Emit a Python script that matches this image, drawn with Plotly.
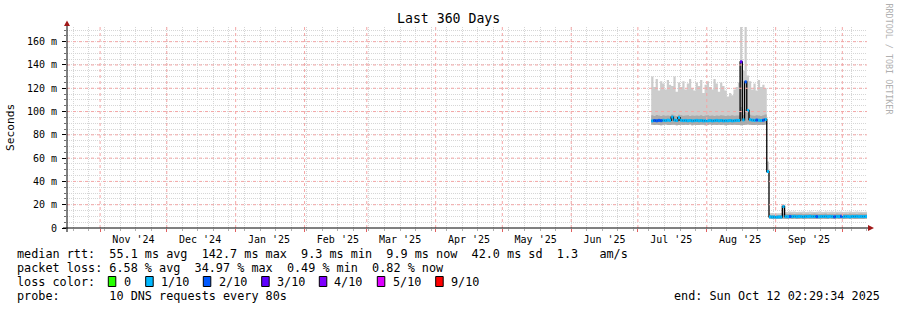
import pandas as pd
import plotly.graph_objects as go

# ---------------- data ----------------
range_start = "2024-10-17 02:29:34"
range_end = "2025-10-12 02:29:34"
first_day = "2025-07-07"

month_starts = ["2024-11-01", "2024-12-01", "2025-01-01", "2025-02-01", "2025-03-01",
                "2025-04-01", "2025-05-01", "2025-06-01", "2025-07-01", "2025-08-01",
                "2025-09-01", "2025-10-01"]
month_labels = ["Nov '24", "Dec '24", "Jan '25", "Feb '25", "Mar '25", "Apr '25",
                "May '25", "Jun '25", "Jul '25", "Aug '25", "Sep '25"]

y_ticks = [0, 20, 40, 60, 80, 100, 120, 140, 160]
y_labels = ["0", "20 m", "40 m", "60 m", "80 m", "100 m", "120 m", "140 m", "160 m"]

# daily median rtt (ms), from 2025-07-07
median_ms = [
    92.0, 92.3, 92.1, 92.4, 92.2, 92.5, 92.3, 92.6, 92.4, 95.2,
    92.6, 92.3, 94.8, 92.5, 92.2, 92.4, 92.1, 92.3, 92.0, 92.2,
    92.4, 92.1, 92.3, 92.0, 92.2, 92.1, 92.3, 92.0, 92.2, 92.4,
    92.1, 92.3, 92.0, 92.2, 92.1, 92.3, 92.0, 92.2, 92.4, 92.3,
    142.7, 92.8, 125.5, 101.0, 93.0, 92.6, 92.4, 92.7, 92.5, 92.3,
    92.6, 93.2, 48.5, 9.6, 9.4, 9.5, 9.3, 9.5, 9.4, 18.5,
    9.8, 9.7, 9.9, 9.8, 10.0, 9.7, 9.9, 9.8, 9.6, 9.9,
    9.8, 10.0, 9.7, 9.9, 9.8, 9.6, 9.9, 9.8, 10.0, 9.7,
    9.9, 9.8, 9.6, 9.9, 9.8, 10.0, 9.7, 9.9, 9.8, 9.6,
    9.9, 9.8, 10.0, 9.7, 9.9, 9.8, 9.9,
]
# lost pings out of 10 per day
loss_count = [
    1, 2, 2, 2, 2, 1, 1, 1, 1, 1,
    1, 1, 1, 1, 1, 1, 1, 1, 1, 1,
    1, 1, 1, 1, 1, 1, 1, 1, 1, 1,
    1, 1, 1, 1, 1, 1, 1, 1, 1, 1,
    3, 1, 2, 1, 1, 1, 1, 2, 1, 1,
    2, 1, 1, 1, 1, 1, 1, 1, 1, 1,
    1, 1, 2, 1, 1, 1, 1, 1, 1, 1,
    1, 1, 1, 1, 2, 1, 1, 1, 1, 1,
    1, 1, 2, 1, 1, 2, 1, 1, 1, 1,
    1, 1, 1, 1, 1, 1, 1,
]
smoke_min = [
    88.6, 88.4, 88.7, 88.5, 88.3, 88.6, 88.8, 88.5, 88.4, 88.7,
    88.6, 88.3, 88.5, 88.7, 88.4, 88.6, 88.5, 88.8, 88.3, 88.6,
    88.5, 88.4, 88.7, 88.6, 88.3, 88.5, 88.8, 88.4, 88.6, 88.5,
    88.7, 88.4, 88.6, 88.3, 88.5, 88.7, 88.4, 88.6, 88.5, 88.4,
    88.2, 88.5, 88.6, 88.8, 88.7, 88.5, 88.4, 88.6, 88.5, 88.7,
    88.4, 88.8, 48.0, 7.9, 7.8, 7.7, 7.9, 7.8, 7.8, 8.0,
    7.8, 7.7, 7.9, 7.8, 7.9, 7.7, 7.8, 7.9, 7.8, 7.7,
    7.9, 7.8, 8.0, 7.8, 7.7, 7.9, 7.8, 7.9, 7.7, 7.8,
    7.9, 7.8, 7.7, 7.9, 7.8, 8.0, 7.8, 7.7, 7.9, 7.8,
    7.9, 7.7, 7.8, 7.9, 7.8, 7.7, 7.9,
]
smoke_mid = [
    96.8, 96.2, 97.0, 96.5, 96.1, 96.9, 96.4, 96.7, 96.3, 97.5,
    96.6, 96.2, 97.3, 96.8, 96.4, 96.5, 96.9, 96.2, 96.6, 96.3,
    96.7, 96.4, 96.8, 96.1, 96.5, 96.9, 96.3, 96.6, 96.2, 96.7,
    96.4, 96.8, 96.5, 96.1, 96.6, 96.3, 96.9, 96.4, 96.7, 96.5,
    104.0, 97.0, 102.0, 99.0, 97.2, 96.6, 96.3, 96.8, 96.5, 96.2,
    96.9, 97.4, 50.0, 11.0, 11.2, 10.9, 11.1, 11.0, 11.2, 12.5,
    12.3, 12.1, 12.4, 12.2, 12.0, 12.3, 12.2, 12.4, 12.1, 12.3,
    12.2, 12.0, 12.3, 12.4, 12.2, 12.1, 12.3, 12.2, 12.4, 12.0,
    12.3, 12.2, 12.1, 12.4, 12.3, 12.2, 12.0, 12.3, 12.1, 12.4,
    12.2, 12.3, 12.1, 12.2, 12.4, 12.3, 12.2,
]
smoke_max = [
    130, 121, 128, 118, 126, 124, 119, 127, 123, 122,
    130, 117, 125, 121, 126, 119, 124, 128, 120, 118,
    125, 122, 127, 116, 123, 126, 121, 119, 128, 124,
    117, 125, 122, 118, 113, 116, 114, 119, 121, 125,
    172.5, 135, 172.5, 131, 126, 119, 124, 118, 127, 121,
    123, 120, 57, 12.6, 12.8, 12.5, 12.7, 12.6, 12.8, 20.5,
    14.0, 13.8, 14.2, 13.9, 14.1, 13.7, 14.0, 13.9, 14.2, 13.8,
    14.0, 14.1, 13.9, 13.7, 14.0, 14.2, 13.9, 13.8, 14.1, 14.0,
    13.9, 14.2, 13.8, 14.0, 13.9, 14.1, 13.7, 14.0, 13.9, 14.2,
    13.8, 14.0, 14.1, 13.9, 14.0, 13.8, 14.0,
]

loss_names = ["0", "1/10", "2/10", "3/10", "4/10", "5/10", "9/10"]
loss_colors = ["#26ff00", "#00b8ff", "#0059ff", "#5e00ff", "#7e00ff", "#dd00ff", "#ff0000"]

stats_rtt = "median rtt:  55.1 ms avg  142.7 ms max  9.3 ms min  9.9 ms now  42.0 ms sd  1.3   am/s"
stats_loss = "packet loss: 6.58 % avg  34.97 % max  0.49 % min  0.82 % now"
probe_text = "probe:       10 DNS requests every 80s"
end_text = "end: Sun Oct 12 02:29:34 2025"

n = len(median_ms)
for arr in (loss_count, smoke_min, smoke_mid, smoke_max):
    assert len(arr) == n, len(arr)

# ---------------- geometry ----------------
W, H = 897, 310
L, R, T, B = 67, 867, 27, 228
def PX(x): return (x - L) / (R - L)
def PY(y): return (B - y) / (B - T)

MONO = "DejaVu Sans Mono"
days = list(pd.date_range(first_day, periods=n, freq="D"))
xs = days + [pd.Timestamp(range_end)]

def ext(v):
    return list(v) + [v[-1]]

fig = go.Figure()
fig.add_trace(go.Scatter(x=xs, y=ext(smoke_min), mode="lines", line=dict(width=0, shape="hv"),
                         hoverinfo="skip", showlegend=False))
fig.add_trace(go.Scatter(x=xs, y=ext(smoke_max), mode="lines", line=dict(width=0, shape="hv"),
                         fill="tonexty", fillcolor="#cccccc", hoverinfo="skip", showlegend=False))
fig.add_trace(go.Scatter(x=xs, y=ext(smoke_min), mode="lines", line=dict(width=0, shape="hv"),
                         hoverinfo="skip", showlegend=False))
fig.add_trace(go.Scatter(x=xs, y=ext(smoke_mid), mode="lines", line=dict(width=0, shape="hv"),
                         fill="tonexty", fillcolor="#aaaaaa", hoverinfo="skip", showlegend=False))
fig.add_trace(go.Scatter(x=xs, y=ext(median_ms), mode="lines",
                         line=dict(width=1.3, color="#000000", shape="hv"),
                         hoverinfo="skip", showlegend=False))

def bucket(c):
    if c <= 4:
        return c
    if c <= 8:
        return 5
    return 6

for b in range(len(loss_names)):
    sx, sy = [], []
    for i in range(n):
        if bucket(loss_count[i]) == b:
            sx += [xs[i], xs[i + 1], None]
            sy += [median_ms[i], median_ms[i], None]
    if sx:
        fig.add_trace(go.Scatter(x=sx, y=sy, mode="lines",
                                 line=dict(width=3, color=loss_colors[b]),
                                 hoverinfo="skip", showlegend=False))

fig.add_trace(go.Scatter(x=[range_start], y=[0], xaxis="x2", yaxis="y", mode="markers",
                         marker=dict(opacity=0), hoverinfo="skip", showlegend=False))

label_dates = [pd.Timestamp(m) + pd.Timedelta(days=15) for m in month_starts[:len(month_labels)]]

major_grid = "#f4a6a6"
minor_grid = "#d6d6d6"
dash = "1px,1px"

fig.update_layout(
    width=W, height=H,
    margin=dict(l=L, r=W - R, t=T, b=H - B, pad=0),
    paper_bgcolor="white", plot_bgcolor="white",
    showlegend=False,
    xaxis=dict(type="date", range=[range_start, range_end],
               tickmode="array", tickvals=month_starts, showticklabels=False,
               showgrid=False,
               ticks="outside", ticklen=3, tickcolor="#e06060", tickwidth=1,
               minor=dict(dtick=7 * 86400000, tick0="2024-10-20", showgrid=True,
                          gridcolor=minor_grid, griddash=dash, gridwidth=1,
                          ticks="outside", ticklen=2, tickcolor="#b0b0b0"),
               showline=False, zeroline=False, fixedrange=True),
    xaxis2=dict(type="date", range=[range_start, range_end], overlaying="x", anchor="y",
                side="bottom", tickmode="array", tickvals=label_dates, ticktext=month_labels,
                showgrid=False, zeroline=False, showline=False, ticks="",
                tickfont=dict(family=MONO, size=10, color="#000000"),
                ticklabelstandoff=4),
    yaxis=dict(range=[0, 172.6], tickmode="array", tickvals=y_ticks, ticktext=y_labels,
               showgrid=False,
               ticks="outside", ticklen=4, tickcolor="#000000", tickwidth=1,
               minor=dict(dtick=5, showgrid=True, gridcolor=minor_grid, griddash=dash,
                          ticks="outside", ticklen=2, tickcolor="#707070"),
               tickfont=dict(family=MONO, size=10, color="#000000"),
               ticklabelstandoff=3,
               showline=False, zeroline=False, fixedrange=True),
)

shapes = []
# major grid (drawn above the smoke, like rrdtool)
for m in month_starts:
    shapes.append(dict(type="line", xref="x", yref="paper", x0=m, x1=m, y0=0, y1=1,
                       line=dict(color=major_grid, width=1, dash="dot"), layer="above"))
for v in y_ticks[1:]:
    shapes.append(dict(type="line", xref="paper", yref="y", x0=0, x1=1, y0=v, y1=v,
                       line=dict(color=major_grid, width=1, dash="dot"), layer="above"))

# axis lines with arrows
shapes.append(dict(type="line", xref="paper", yref="paper", x0=PX(67), x1=PX(67),
                   y0=PY(232), y1=PY(25), line=dict(color="#000000", width=1), layer="above"))
shapes.append(dict(type="line", xref="paper", yref="paper", x0=PX(63), x1=PX(869),
                   y0=PY(228), y1=PY(228), line=dict(color="#000000", width=1), layer="above"))
shapes.append(dict(type="path", xref="paper", yref="paper",
                   path=f"M {PX(64)},{PY(26)} L {PX(70)},{PY(26)} L {PX(67)},{PY(20.5)} Z",
                   fillcolor="#a01818", line=dict(width=0), layer="above"))
shapes.append(dict(type="path", xref="paper", yref="paper",
                   path=f"M {PX(868)},{PY(225)} L {PX(868)},{PY(231)} L {PX(874)},{PY(228)} Z",
                   fillcolor="#a01818", line=dict(width=0), layer="above"))

annotations = []
def txt(x, y, s, size=11.8, color="#000000", xanchor="left", angle=0, yanchor="middle"):
    annotations.append(dict(xref="paper", yref="paper", x=PX(x), y=PY(y), text=s.replace(" ", "\u00a0"),
                            showarrow=False, xanchor=xanchor, yanchor=yanchor, textangle=angle,
                            font=dict(family=MONO, size=size, color=color), borderpad=0))

txt(448, 19, "Last 360 Days", size=13.2, xanchor="center")
txt(11, 127, "Seconds", size=11.2, xanchor="center", angle=-90)
txt(888.5, 59, "RRDTOOL / TOBI OETIKER", size=8.4, color="#b0b0b0", xanchor="center", angle=90)

txt(16, 254, stats_rtt)
txt(16, 268, stats_loss)
txt(16, 282, "loss color:")
txt(16, 296, probe_text)
txt(881, 296, end_text, xanchor="right")

box_left = [108.3, 145.7, 203.3, 261.7, 319.3, 377.3, 435.7]
label_left = [123.3, 160.0, 218.3, 276.0, 333.3, 391.7, 450.0]
for i, name in enumerate(loss_names):
    shapes.append(dict(type="rect", xref="paper", yref="paper",
                       x0=PX(box_left[i]), x1=PX(box_left[i] + 7.5),
                       y0=PY(286.5), y1=PY(276.5),
                       fillcolor=loss_colors[i], line=dict(color="#000000", width=1)))
    txt(label_left[i], 282, name)

fig.update_layout(shapes=shapes, annotations=annotations)
fig.write_html("out.html")
